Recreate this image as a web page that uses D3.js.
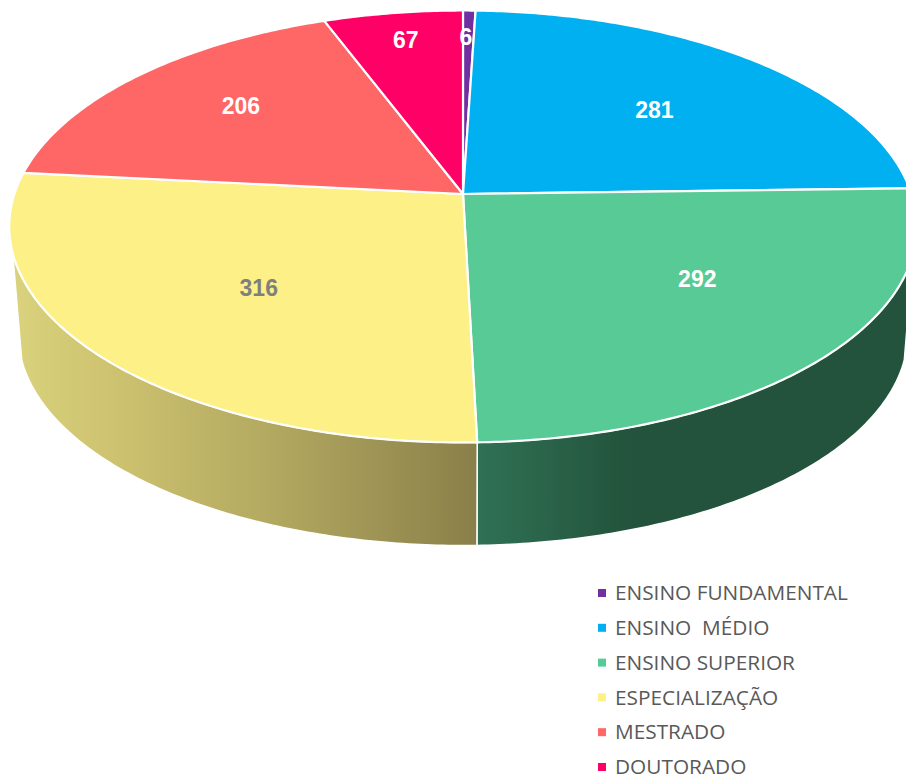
<!DOCTYPE html>
<html>
<head>
<meta charset="utf-8">
<script src="https://cdn.jsdelivr.net/npm/d3@7"></script>
<style>
    html, body { margin: 0; padding: 0; background: #fff; }
    svg { display: block; }
</style>
</head>
<body>
<div id="chart"></div>
<script>
const categories = ["ENSINO FUNDAMENTAL", "ENSINO  MÉDIO", "ENSINO SUPERIOR", "ESPECIALIZAÇÃO", "MESTRADO", "DOUTORADO"]
const values = [6, 281, 292, 316, 206, 67]
const colors = ["#7030A0", "#00B0F0", "#57CA96", "#FCF086", "#FF6666", "#FF0066"]
const labelColors = ["#fff", "#fff", "#fff", "#7F7F7F", "#fff", "#fff"]

const width = 906
const height = 778

// pie is a flat disc seen in perspective, not a plain ellipse
const center = { x: 463, y: 194 }
const radiusX = 448.6
const radiusY = 211.1
const tilt = 0.1504
const depth = 108
const bottomScale = 0.98

// only this part of the rim faces the viewer (degrees from top, clockwise)
const rimStart = 105.6 * Math.PI / 180
const rimEnd = 254.4 * Math.PI / 180

function project(angle, r = 1, floor = false) {
    const w = 1 + tilt * r * Math.cos(angle)
    const s = floor ? bottomScale : 1
    return [
        center.x + s * radiusX * r * Math.sin(angle) / w,
        center.y + (floor ? depth : 0) - s * radiusY * r * Math.cos(angle) / w
    ]
}

function arcPoints(a0, a1, floor) {
    const n = Math.max(2, Math.ceil(Math.abs(a1 - a0) * 90))
    return d3.range(n + 1).map(i => project(a0 + (a1 - a0) * i / n, 1, floor))
}

const svg = d3.select("#chart")
    .append("svg")
    .attr("width", width)
    .attr("height", height)
    .style("font-family", "'Liberation Sans', Arial, sans-serif")

const pie = d3.pie().sort(null).value(d => d)
const slices = pie(values)
const line = d3.line()
const color = d3.scaleOrdinal().domain(categories).range(colors)

// rim shading
const defs = svg.append("defs")
const rimGradients = [
    { id: "rim3", x1: 12, x2: 477, stops: [[0, "#DAD27C"], [0.25, "#CBC06E"], [0.6, "#AFA55E"], [1, "#8A7F49"]] },
    { id: "rim2", x1: 478, x2: 906, stops: [[0, "#2F7154"], [0.35, "#23533C"], [1, "#23533C"]] }
]
rimGradients.forEach(g => {
    const grad = defs.append("linearGradient")
        .attr("id", g.id)
        .attr("gradientUnits", "userSpaceOnUse")
        .attr("x1", g.x1).attr("x2", g.x2)
        .attr("y1", 0).attr("y2", 0)
    g.stops.forEach(s => grad.append("stop").attr("offset", s[0]).attr("stop-color", s[1]))
})

const rims = slices
    .map((d, i) => ({
        i,
        a0: Math.max(d.startAngle, rimStart),
        a1: Math.min(d.endAngle, rimEnd)
    }))
    .filter(d => d.a1 > d.a0)

svg.append("g")
    .selectAll("path")
    .data(rims)
    .join("path")
    .attr("d", d => line(arcPoints(d.a0, d.a1, false).concat(arcPoints(d.a1, d.a0, true))) + "Z")
    .attr("fill", d => `url(#rim${d.i})`)
    .attr("stroke", "#fff")
    .attr("stroke-width", 1.5)

// top of the pie
svg.append("g")
    .selectAll("path")
    .data(slices)
    .join("path")
    .attr("d", d => line([[center.x, center.y]].concat(arcPoints(d.startAngle, d.endAngle, false))) + "Z")
    .attr("fill", (d, i) => color(categories[i]))
    .attr("stroke", "#fff")
    .attr("stroke-width", 2.2)
    .attr("stroke-linejoin", "round")

// labels sit at 0.6 of the radius, then moved by hand like in the original
const labelNudge = [[-1, -41], [12, 0], [26, -8], [6, 2], [-20, -15], [-13, -40]]

svg.append("g")
    .selectAll("text")
    .data(slices)
    .join("text")
    .attr("x", (d, i) => project((d.startAngle + d.endAngle) / 2, 0.6)[0] + labelNudge[i][0])
    .attr("y", (d, i) => project((d.startAngle + d.endAngle) / 2, 0.6)[1] + labelNudge[i][1])
    .attr("dy", "0.35em")
    .attr("text-anchor", "middle")
    .attr("font-size", 23)
    .attr("font-weight", "bold")
    .attr("fill", (d, i) => labelColors[i])
    .text(d => d.data)

// legend
const legendY = d3.scalePoint().domain(categories).range([593, 767])

const legend = svg.append("g")
    .selectAll("g")
    .data(categories)
    .join("g")
    .attr("transform", d => `translate(598, ${legendY(d)})`)

legend.append("rect")
    .attr("y", -4)
    .attr("width", 8)
    .attr("height", 8)
    .attr("fill", d => color(d))

legend.append("text")
    .attr("x", 17)
    .attr("dy", "0.35em")
    .attr("font-family", "'Open Sans', sans-serif")
    .attr("font-size", 20.8)
    .attr("fill", "#595959")
    .style("white-space", "pre")
    .text(d => d)
</script>
</body>
</html>
